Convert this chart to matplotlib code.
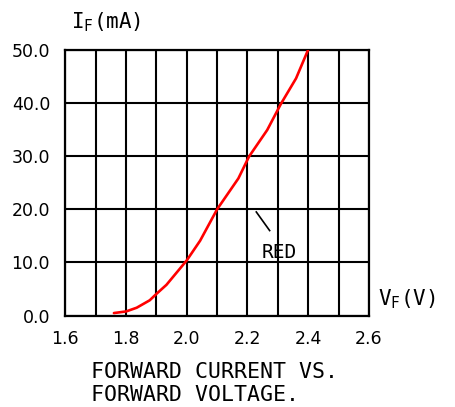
import numpy as np
from matplotlib import pyplot as plt

# forward voltage (V) vs forward current (mA)
vf = [1.76, 1.80, 1.835, 1.878, 1.90, 1.933, 2.0, 2.044, 2.10, 2.17, 2.205, 2.265, 2.31, 2.36, 2.40]
i_f = [0.5, 0.8, 1.5, 2.9, 4.1, 5.8, 10.4, 14.1, 20.0, 25.8, 29.9, 34.9, 39.8, 44.6, 50.0]

x_ticks = [1.6, 1.8, 2.0, 2.2, 2.4, 2.6]
y_ticks = [0, 10, 20, 30, 40, 50]
y_labels = ["0.0", "10.0", "20.0", "30.0", "40.0", "50.0"]

fig = plt.figure(figsize=(4.56, 4.07), dpi=100)
ax = fig.add_axes([0.1433, 0.2243, 0.6657, 0.6537])

ax.plot(vf, i_f, color="red", lw=1.9, solid_capstyle="round", zorder=3)

ax.set_xlim(1.6, 2.6)
ax.set_ylim(0, 50)
ax.set_xticks(x_ticks, [f"{v:.1f}" for v in x_ticks])
ax.set_xticks(np.arange(1.6, 2.61, 0.1), minor=True)
ax.set_yticks(y_ticks, y_labels)
ax.grid(True, which="both", color="black", lw=1.5)
ax.tick_params(which="both", length=0, labelsize=12.5)
ax.tick_params(axis="y", pad=11)
ax.tick_params(axis="x", pad=10)
for s in ax.spines.values():
    s.set_linewidth(1.6)
    s.set_color("black")

mono = "DejaVu Sans Mono"
fig.text(0.155, 0.945, r"I$_\mathregular{F}$(mA)", fontsize=15, family=mono, va="center")
fig.text(0.83, 0.265, r"V$_\mathregular{F}$(V)", fontsize=15, family=mono, va="center")

ax.text(2.247, 11.8, "RED", fontsize=14, family=mono, va="center")
ax.plot([2.229, 2.273], [19.5, 16.0], color="black", lw=1.2)

fig.text(0.2, 0.058, "FORWARD CURRENT VS.\nFORWARD VOLTAGE.", fontsize=15.5, family=mono,
         va="center", linespacing=1.15)

fig.savefig("out.png", dpi=100)
